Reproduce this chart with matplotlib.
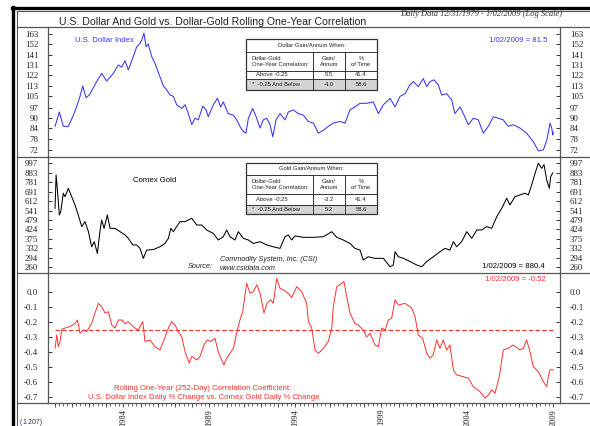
import matplotlib
matplotlib.use("Agg")
import matplotlib.pyplot as plt
from matplotlib.lines import Line2D
from matplotlib.patches import Rectangle
from matplotlib.ticker import FixedLocator, FixedFormatter, NullLocator

# serif for the axis numbers, sans for all other text
plt.rcParams['font.family'] = 'Liberation Serif'
plt.rcParams['axes.unicode_minus'] = False
SANS = 'Liberation Sans'

# ---- U.S. Dollar Index (log scale) ----
usd_years = [1980.03, 1980.28, 1980.51, 1980.80, 1981.06, 1981.25, 1981.48, 1981.64, 1981.83, 1982.02,
             1982.35, 1982.55, 1982.74, 1983.03, 1983.42, 1983.71, 1983.91, 1984.10, 1984.29, 1984.58,
             1984.78, 1984.97, 1985.07, 1985.20, 1985.32, 1985.45, 1985.65, 1985.84, 1986.13, 1986.33,
             1986.52, 1986.72, 1986.91, 1987.10, 1987.40, 1987.59, 1987.78, 1987.98, 1988.17, 1988.36,
             1988.62, 1988.81, 1988.94, 1989.23, 1989.47, 1989.66, 1989.81, 1990.10, 1990.40, 1990.59,
             1990.83, 1990.98, 1991.13, 1991.27, 1991.52, 1991.72, 1991.95, 1992.14, 1992.34, 1992.53,
             1992.69, 1992.88, 1993.11, 1993.40, 1993.59, 1993.88, 1994.17, 1994.47, 1994.76, 1995.05,
             1995.34, 1995.63, 1995.92, 1996.21, 1996.60, 1996.89, 1997.18, 1997.47, 1997.76, 1998.15,
             1998.53, 1998.83, 1999.12, 1999.51, 1999.80, 2000.09, 2000.38, 2000.67, 2000.86, 2001.15,
             2001.44, 2001.64, 2001.83, 2002.06, 2002.31, 2002.51, 2002.80, 2003.09, 2003.28, 2003.58,
             2003.77, 2004.06, 2004.35, 2004.64, 2004.93, 2005.22, 2005.51, 2005.80, 2006.09, 2006.38,
             2006.67, 2007.06, 2007.45, 2007.84, 2008.13, 2008.42, 2008.62, 2008.81, 2008.91, 2008.97,
             2009.00]
usd_values = [85, 94, 85, 85, 91, 96.5, 105, 113, 104, 106,
              114, 119, 123.5, 117, 123.5, 131, 129, 135, 126.5, 139,
              149, 152.5, 156, 164, 149, 152, 139, 132.5, 120.5, 113,
              110, 106, 105, 99, 96.5, 99, 93, 86, 90, 89,
              98, 95.5, 91, 99, 103.5, 97.5, 101, 93, 92, 89,
              84, 82, 81, 90, 96.5, 91, 84, 89, 90, 86,
              79, 89, 93, 89, 94, 95.5, 93, 92, 88, 87,
              81, 82.7, 85, 87, 88, 87, 95.5, 97.5, 100, 100,
              101, 93, 99, 103.5, 97.5, 105, 107, 114, 116.5, 112.5,
              119, 112.5, 116.5, 118, 114, 106, 107, 102.5, 93, 97.5,
              93, 86, 90, 89, 81, 85, 91, 90, 89, 85,
              86, 84, 81, 76.3, 71.5, 72, 77, 87, 84, 80,
              81.5]

# ---- Comex Gold (log scale) ----
gold_years = [1980.03, 1980.09, 1980.16, 1980.28, 1980.36, 1980.51, 1980.61, 1980.80, 1981.00, 1981.19,
              1981.38, 1981.58, 1981.77, 1981.97, 1982.16, 1982.31, 1982.49, 1982.65, 1982.74, 1982.88,
              1983.07, 1983.23, 1983.52, 1983.81, 1984.10, 1984.29, 1984.55, 1984.78, 1984.97, 1985.16,
              1985.36, 1985.74, 1986.13, 1986.42, 1986.62, 1986.76, 1986.91, 1987.10, 1987.30, 1987.59,
              1987.98, 1988.27, 1988.56, 1988.85, 1989.23, 1989.52, 1989.81, 1990.01, 1990.20, 1990.49,
              1990.69, 1990.98, 1991.27, 1991.56, 1991.95, 1992.34, 1992.72, 1993.11, 1993.40, 1993.59,
              1993.79, 1993.98, 1994.47, 1995.05, 1995.63, 1996.12, 1996.41, 1996.79, 1997.18, 1997.47,
              1997.76, 1997.95, 1998.24, 1998.63, 1999.12, 1999.51, 1999.70, 1999.80, 1999.99, 2000.28,
              2000.67, 2001.06, 2001.35, 2001.64, 2002.02, 2002.41, 2002.70, 2002.99, 2003.19, 2003.38,
              2003.67, 2003.97, 2004.26, 2004.55, 2004.84, 2005.13, 2005.42, 2005.71, 2006.00, 2006.29,
              2006.48, 2006.77, 2007.06, 2007.35, 2007.55, 2007.74, 2007.94, 2008.13, 2008.32, 2008.46,
              2008.62, 2008.77, 2008.85, 2008.97]
gold_values = [557, 857, 721, 511, 533, 677, 647, 721, 647, 582,
               511, 440, 469, 412, 339, 362, 311, 421, 479, 430,
               511, 430, 430, 412, 395, 378, 347, 347, 332, 292,
               325, 327, 339, 354, 378, 430, 412, 440, 469, 469,
               490, 449, 449, 421, 403, 370, 386, 421, 386, 370,
               412, 378, 370, 354, 362, 347, 339, 332, 386, 395,
               370, 390, 383, 383, 386, 412, 383, 370, 354, 332,
               325, 286, 298, 292, 292, 262, 268, 318, 298, 292,
               280, 268, 262, 280, 298, 318, 332, 325, 362, 339,
               362, 412, 378, 421, 421, 440, 430, 500, 557, 634,
               582, 647, 662, 677, 662, 753, 876, 997, 934, 980,
               803, 721, 840, 880.4]

# ---- rolling one-year correlation ----
corr_years = [1980.03, 1980.13, 1980.22, 1980.32, 1980.42, 1980.61, 1980.90, 1981.19, 1981.33, 1981.48,
              1981.67, 1981.87, 1982.16, 1982.35, 1982.55, 1982.74, 1982.94, 1983.13, 1983.33, 1983.52,
              1983.71, 1983.91, 1984.10, 1984.29, 1984.49, 1984.68, 1984.87, 1985.13, 1985.26, 1985.55,
              1985.84, 1986.13, 1986.33, 1986.62, 1986.81, 1987.01, 1987.20, 1987.40, 1987.59, 1987.84,
              1987.98, 1988.27, 1988.46, 1988.69, 1988.88, 1989.08, 1989.33, 1989.52, 1989.72, 1989.85,
              1990.01, 1990.20, 1990.40, 1990.63, 1990.78, 1990.94, 1991.17, 1991.37, 1991.56, 1991.76,
              1991.95, 1992.18, 1992.34, 1992.57, 1992.72, 1992.92, 1993.11, 1993.30, 1993.59, 1993.79,
              1994.08, 1994.37, 1994.66, 1994.76, 1994.95, 1995.15, 1995.34, 1995.63, 1995.92, 1996.12,
              1996.21, 1996.41, 1996.70, 1996.83, 1996.99, 1997.18, 1997.47, 1997.66, 1997.95, 1998.15,
              1998.34, 1998.63, 1998.83, 1999.02, 1999.22, 1999.41, 1999.60, 1999.80, 1999.99, 2000.38,
              2000.77, 2000.96, 2001.15, 2001.41, 2001.64, 2001.83, 2002.02, 2002.22, 2002.41, 2002.60,
              2002.80, 2002.99, 2003.19, 2003.38, 2003.77, 2004.06, 2004.35, 2004.74, 2005.03, 2005.22,
              2005.42, 2005.61, 2005.86, 2006.09, 2006.38, 2006.67, 2007.06, 2007.26, 2007.45, 2007.65,
              2007.84, 2008.13, 2008.42, 2008.62, 2008.71, 2008.81, 2009.00]
corr_values = [-0.376, -0.286, -0.365, -0.33, -0.248, -0.24, -0.23, -0.21, -0.186, -0.275,
               -0.253, -0.264, -0.21, -0.14, -0.074, -0.096, -0.14, -0.13, -0.22, -0.24,
               -0.186, -0.186, -0.21, -0.197, -0.22, -0.24, -0.253, -0.197, -0.33, -0.32,
               -0.365, -0.387, -0.33, -0.24, -0.197, -0.22, -0.264, -0.30, -0.40, -0.476,
               -0.43, -0.454, -0.43, -0.353, -0.32, -0.33, -0.309, -0.40, -0.454, -0.488,
               -0.443, -0.41, -0.376, -0.253, -0.186, -0.13, 0.06, -0.007, 0.004, 0.05,
               -0.007, -0.14, -0.074, -0.05, -0.074, 0.094, 0.027, 0.016, -0.007, -0.035,
               0.038, 0.004, -0.074, -0.197, -0.24, -0.387, -0.41, -0.376, -0.33, -0.24,
               -0.096, 0.038, 0.06, 0.072, -0.03, -0.14, -0.21, -0.22, -0.253, -0.30,
               -0.275, -0.353, -0.365, -0.24, -0.253, -0.186, -0.175, -0.05, -0.085, -0.074,
               -0.107, -0.163, -0.286, -0.31, -0.41, -0.443, -0.42, -0.32, -0.376, -0.32,
               -0.387, -0.353, -0.52, -0.555, -0.566, -0.577, -0.633, -0.667, -0.71, -0.69,
               -0.655, -0.678, -0.566, -0.387, -0.376, -0.353, -0.387, -0.376, -0.32, -0.40,
               -0.50, -0.532, -0.60, -0.633, -0.566, -0.52, -0.52]

usd_ticks = [72, 78, 84, 90, 97, 105, 113, 122, 131, 141, 152, 163]
gold_ticks = [260, 294, 332, 375, 424, 479, 541, 612, 691, 781, 883, 997]
corr_ticks = [0.0, -0.1, -0.2, -0.3, -0.4, -0.5, -0.6, -0.7]
year_labels = [1984, 1989, 1994, 1999, 2004, 2009]
corr_threshold = -0.25

last_date = "1/02/2009"
last_usd = 81.5
last_gold = 880.4
last_corr = -0.52

# regime tables
table_rows = ["Above -0.25", "*  -0.25 And Below"]
dollar_gain = ["5.5", "-4.0"]
gold_gain = ["-3.2", "5.2"]
pct_time = ["41.4", "58.6"]

BLUE = '#3535f2'
RED = '#ff2e2e'
FRAME = '#555555'

W, H = 590, 426
fig = plt.figure(figsize=(W / 100, H / 100), dpi=100)


def fx(x):
    return x / W


def fy(y):
    return 1 - y / H


def fline(xs, ys, **kw):
    fig.add_artist(Line2D([fx(v) for v in xs], [fy(v) for v in ys],
                          transform=fig.transFigure, **kw))


def ftext(x, y, s, **kw):
    kw.setdefault('family', SANS)
    fig.text(fx(x), fy(y), s, **kw)


# page frame and panel separators
fline([12.8, 12.8], [7, H], color='black', lw=2.4)
fline([11.5, W], [8.3, 8.3], color='black', lw=2.4)
fline([17, 17], [11, H], color=FRAME, lw=0.8)
fline([17, W], [11, 11], color=FRAME, lw=0.8)
for ysep in (27, 157, 273, 403):
    fline([17, W], [ysep, ysep], color=FRAME, lw=0.9)

X0, X1 = 48, 560
XMIN, XMAX = 1979.62, 2009.39


def panel(top, bottom, ticks, labels, ylim, log=False):
    ax = fig.add_axes([fx(X0), fy(bottom), (X1 - X0) / W, (bottom - top) / H])
    ax.patch.set_alpha(0)
    ax.set_xlim(XMIN, XMAX)
    if log:
        ax.set_yscale('log')
    ax.set_ylim(*ylim)
    ax.yaxis.set_major_locator(FixedLocator(ticks))
    ax.yaxis.set_major_formatter(FixedFormatter(labels))
    ax.yaxis.set_minor_locator(NullLocator())
    for side in ('top', 'bottom'):
        ax.spines[side].set_visible(False)
    for side in ('left', 'right'):
        ax.spines[side].set_color(FRAME)
        ax.spines[side].set_linewidth(0.9)
    ax.tick_params(axis='y', which='major', direction='in', left=True, right=True,
                   labelleft=True, labelright=True, length=3, width=0.7,
                   pad=7, labelsize=6.4, color='#333333', labelcolor='#222222')
    ax.tick_params(axis='x', which='both', bottom=False, labelbottom=False)
    return ax


ax1 = panel(27, 157, usd_ticks, [str(t) for t in usd_ticks], (68.5, 171.2), log=True)
ax2 = panel(157, 273, gold_ticks, [str(t) for t in gold_ticks], (241.6, 1081), log=True)
ax3 = panel(273, 403, corr_ticks, [f"{t:.1f}" for t in corr_ticks], (-0.743, 0.1295))

ax1.plot(usd_years, usd_values, color=BLUE, lw=0.75)
ax2.plot(gold_years, gold_values, color='black', lw=0.75)
ax3.plot(corr_years, corr_values, color=RED, lw=0.7)
ax3.plot([corr_years[0], corr_years[-1]], [corr_threshold, corr_threshold],
         color=RED, lw=0.8, ls=(0, (4, 2)))

# time axis: yearly and quarterly ticks below the bottom panel
years = list(range(1980, 2010))
ax3.xaxis.set_major_locator(FixedLocator(years))
ax3.xaxis.set_major_formatter(FixedFormatter([str(y) if y in year_labels else '' for y in years]))
ax3.xaxis.set_minor_locator(FixedLocator([1980 + q / 4 for q in range(117)]))
ax3.tick_params(axis='x', which='major', bottom=True, labelbottom=True, direction='out',
                length=3.2, width=0.6, pad=1, labelsize=6, labelrotation=90,
                color='#333333', labelcolor='#222222')
ax3.tick_params(axis='x', which='minor', bottom=True, direction='out',
                length=2.2, width=0.5, color='#333333')

# titles
ftext(212.5, 25.2, "U.S. Dollar And Gold vs. Dollar-Gold Rolling One-Year Correlation",
      ha='center', va='baseline', fontsize=7.6, color='#222222')
ftext(562, 16.2, "Daily Data 12/31/1979 - 1/02/2009 (Log Scale)", family='Liberation Serif',
      ha='right', va='baseline', fontsize=6.1, style='italic', color='#333333')

# panel annotations
ftext(75, 40, "U.S. Dollar Index", ha='left', va='center', fontsize=5.6, color=BLUE)
ftext(547, 40, f"{last_date} = {last_usd}", ha='right', va='center', fontsize=5.6, color=BLUE)
ftext(133, 180.7, "Comex Gold", ha='left', va='center', fontsize=5.6, color='black')
ftext(545, 267, f"{last_date} = {last_gold}", ha='right', va='center', fontsize=5.6, color='black')
ftext(213, 266.7, "Source:", ha='right', va='center', fontsize=5.2, style='italic', color='#222222')
ftext(220, 259.8, "Commodity System, Inc. (CSI)", ha='left', va='center', fontsize=5.2,
      style='italic', color='#222222')
ftext(220, 269, "www.csidata.com", ha='left', va='center', fontsize=5.2, style='italic', color='#222222')
ftext(546, 279.3, f"{last_date} = {last_corr:.2f}", ha='right', va='center', fontsize=5.6, color=RED)
ftext(203, 388, "Rolling One-Year (252-Day) Correlation Coefficient:", ha='center', va='center',
      fontsize=5.6, color=RED)
ftext(204, 397.5, "U.S. Dollar Index Daily % Change vs. Comex Gold Daily % Change", ha='center',
      va='center', fontsize=5.6, color=RED)

ftext(20, 422.5, "(", ha='left', va='center', fontsize=5, color='#333333')
ftext(22.2, 422.5, "1", ha='left', va='center', fontsize=5, color='#2020d0')
ftext(26.5, 422.5, " 207)", ha='left', va='center', fontsize=5, color='#333333')


def draw_table(rows, header, gains):
    left, right, c1, c2 = 246, 377, 313, 345
    fig.add_artist(Rectangle((fx(left), fy(rows[4])), (right - left) / W, (rows[4] - rows[3]) / H,
                             transform=fig.transFigure, facecolor='#d4d4d4', edgecolor='none'))
    fig.add_artist(Rectangle((fx(left), fy(rows[4])), (right - left) / W, (rows[4] - rows[0]) / H,
                             transform=fig.transFigure, facecolor='none', edgecolor='#333333', lw=0.9))
    for yr in rows[1:4]:
        fline([left, right], [yr, yr], color='#333333', lw=0.7)
    for xc in (c1, c2):
        fline([xc, xc], [rows[1], rows[4]], color='#333333', lw=0.7)
    fs = 4.2
    tc = '#222222'
    ftext((left + right) / 2, (rows[0] + rows[1]) / 2, header, ha='center', va='center', fontsize=fs, color=tc)
    mid = (rows[1] + rows[2]) / 2
    ftext(252, mid, "Dollar-Gold\nOne-Year Correlation:", ha='left', va='center', fontsize=fs,
          color=tc, linespacing=1.15)
    ftext((c1 + c2) / 2, mid, "Gain/\nAnnum", ha='center', va='center', fontsize=fs, color=tc,
          linespacing=1.15)
    ftext((c2 + right) / 2, mid, "%\nof Time", ha='center', va='center', fontsize=fs, color=tc,
          linespacing=1.15)
    for i in range(2):
        ym = (rows[2 + i] + rows[3 + i]) / 2
        ftext(256 if i == 0 else 252, ym, table_rows[i], ha='left', va='center', fontsize=fs, color=tc)
        ftext((c1 + c2) / 2, ym, gains[i], ha='center', va='center', fontsize=fs, color=tc)
        ftext((c2 + right) / 2, ym, pct_time[i], ha='center', va='center', fontsize=fs, color=tc)


draw_table([39.3, 51.7, 70.7, 79.3, 90], "Dollar Gain/Annum When:", dollar_gain)
draw_table([162.7, 175, 194.3, 205, 214], "Gold Gain/Annum When:", gold_gain)

fig.savefig('out.png', dpi=100)
